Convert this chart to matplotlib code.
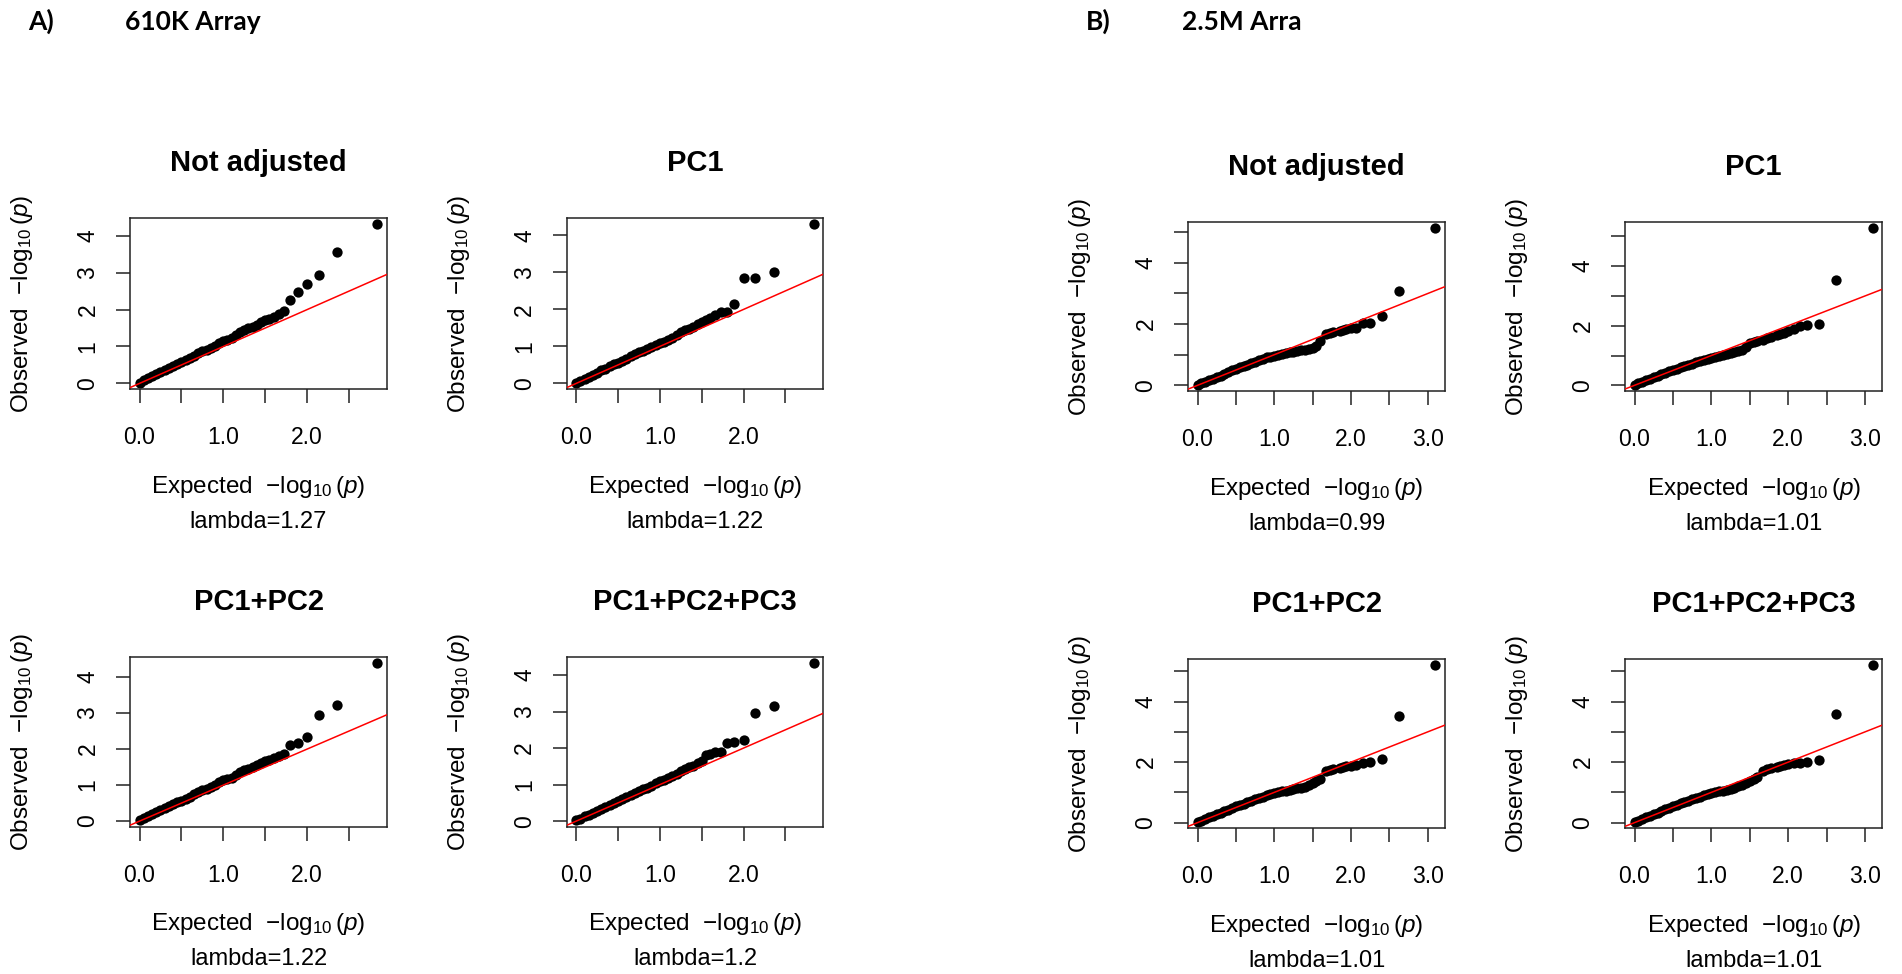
import matplotlib
matplotlib.use("Agg")
import matplotlib.pyplot as plt

plt.rcParams['font.family'] = ['Liberation Sans', 'DejaVu Sans']
plt.rcParams['mathtext.fontset'] = 'custom'
plt.rcParams['mathtext.rm'] = 'Liberation Sans'
plt.rcParams['mathtext.it'] = 'Liberation Sans:italic'

# expected -log10(p), sampled along each QQ curve
expected_610k = [0.00, 0.05, 0.10, 0.15, 0.20, 0.25, 0.30, 0.35, 0.40, 0.45,
                 0.50, 0.55, 0.60, 0.65, 0.70, 0.75, 0.80, 0.85, 0.90, 0.95,
                 1.00, 1.05, 1.10, 1.15, 1.20, 1.25, 1.30, 1.35, 1.40, 1.45,
                 1.50, 1.55, 1.60, 1.66, 1.73, 1.80, 1.89, 2.00, 2.14, 2.36, 2.84]
expected_25m = [0.00, 0.05, 0.10, 0.15, 0.20, 0.25, 0.30, 0.35, 0.40, 0.45,
                0.50, 0.55, 0.60, 0.65, 0.70, 0.75, 0.80, 0.85, 0.90, 0.95,
                1.00, 1.05, 1.10, 1.15, 1.20, 1.25, 1.30, 1.35, 1.40, 1.45,
                1.50, 1.55, 1.60, 1.67, 1.73, 1.77, 1.85, 1.89, 1.94, 2.00,
                2.07, 2.15, 2.25, 2.40, 2.62, 3.10]

# observed -log10(p)
obs_610k_none = [0.02, 0.08, 0.14, 0.19, 0.25, 0.31, 0.36, 0.42, 0.47, 0.53,
                 0.58, 0.63, 0.69, 0.75, 0.82, 0.88, 0.90, 0.95, 1.02, 1.10,
                 1.14, 1.17, 1.22, 1.30, 1.38, 1.46, 1.50, 1.52, 1.58, 1.66,
                 1.72, 1.75, 1.79, 1.88, 1.95, 2.25, 2.47, 2.70, 2.93, 3.57, 4.31]
obs_610k_pc1 = [0.02, 0.07, 0.13, 0.18, 0.24, 0.29, 0.35, 0.40, 0.46, 0.52,
                0.56, 0.61, 0.67, 0.73, 0.79, 0.85, 0.88, 0.93, 0.98, 1.05,
                1.10, 1.13, 1.18, 1.24, 1.31, 1.39, 1.45, 1.48, 1.53, 1.60,
                1.67, 1.72, 1.78, 1.86, 1.93, 1.93, 2.15, 2.86, 2.86, 3.02, 4.30]
obs_610k_pc2 = [0.02, 0.08, 0.13, 0.19, 0.24, 0.30, 0.36, 0.41, 0.47, 0.52,
                0.57, 0.62, 0.68, 0.75, 0.81, 0.86, 0.89, 0.94, 1.01, 1.08,
                1.13, 1.16, 1.21, 1.28, 1.35, 1.41, 1.46, 1.50, 1.56, 1.62,
                1.67, 1.70, 1.76, 1.80, 1.86, 2.12, 2.16, 2.33, 2.95, 3.23, 4.39]
obs_610k_pc3 = [0.02, 0.07, 0.13, 0.18, 0.23, 0.29, 0.34, 0.40, 0.45, 0.51,
                0.56, 0.61, 0.66, 0.72, 0.78, 0.83, 0.87, 0.92, 0.97, 1.04,
                1.09, 1.12, 1.17, 1.23, 1.30, 1.37, 1.43, 1.47, 1.52, 1.60,
                1.65, 1.80, 1.85, 1.88, 1.88, 2.14, 2.17, 2.22, 2.95, 3.16, 4.33]

obs_25m_none = [0.02, 0.07, 0.12, 0.17, 0.22, 0.27, 0.32, 0.37, 0.43, 0.49,
                0.55, 0.59, 0.63, 0.68, 0.73, 0.77, 0.82, 0.87, 0.91, 0.94,
                0.97, 1.00, 1.02, 1.05, 1.08, 1.10, 1.12, 1.14, 1.16, 1.18,
                1.21, 1.30, 1.45, 1.68, 1.72, 1.74, 1.78, 1.80, 1.83, 1.86,
                1.87, 2.04, 2.04, 2.25, 3.07, 5.14]
obs_25m_pc1 = [0.02, 0.07, 0.12, 0.17, 0.22, 0.27, 0.32, 0.37, 0.42, 0.47,
               0.52, 0.56, 0.60, 0.64, 0.68, 0.73, 0.77, 0.81, 0.86, 0.90,
               0.93, 0.96, 0.99, 1.02, 1.05, 1.08, 1.11, 1.14, 1.18, 1.30,
               1.42, 1.45, 1.48, 1.52, 1.58, 1.62, 1.68, 1.72, 1.76, 1.82,
               1.90, 2.00, 2.02, 2.05, 3.52, 5.28]
obs_25m_pc2 = [0.02, 0.07, 0.12, 0.17, 0.22, 0.27, 0.32, 0.37, 0.43, 0.49,
               0.54, 0.58, 0.63, 0.68, 0.72, 0.77, 0.82, 0.86, 0.90, 0.94,
               0.97, 1.00, 1.03, 1.06, 1.09, 1.12, 1.14, 1.16, 1.19, 1.24,
               1.30, 1.38, 1.45, 1.70, 1.74, 1.76, 1.80, 1.85, 1.87, 1.88,
               1.90, 1.98, 2.00, 2.11, 3.54, 5.20]
obs_25m_pc3 = [0.02, 0.07, 0.12, 0.17, 0.22, 0.28, 0.33, 0.38, 0.44, 0.49,
               0.54, 0.59, 0.64, 0.69, 0.73, 0.78, 0.82, 0.86, 0.90, 0.94,
               0.97, 1.00, 1.03, 1.06, 1.09, 1.12, 1.16, 1.20, 1.25, 1.30,
               1.38, 1.45, 1.50, 1.72, 1.76, 1.80, 1.84, 1.88, 1.91, 1.94,
               1.96, 1.98, 2.00, 2.07, 3.58, 5.20]

titles = ["Not adjusted", "PC1", "PC1+PC2", "PC1+PC2+PC3"]
lambdas_610k = ["1.27", "1.22", "1.22", "1.2"]
lambdas_25m = ["0.99", "1.01", "1.01", "1.01"]

xticks_610k = [0, 0.5, 1, 1.5, 2, 2.5]
xlabels_610k = ["0.0", "", "1.0", "", "2.0", ""]
yticks_610k = [0, 1, 2, 3, 4]
ylabels_610k = ["0", "1", "2", "3", "4"]
xticks_25m = [0, 0.5, 1, 1.5, 2, 2.5, 3]
xlabels_25m = ["0.0", "", "1.0", "", "2.0", "", "3.0"]
yticks_25m = [0, 1, 2, 3, 4, 5]
ylabels_25m = ["0", "", "2", "", "4", ""]

W, H = 1902, 974
fig = plt.figure(figsize=(W / 100, H / 100), dpi=100)


def rect(l, r, t, b):
    return [l / W, 1 - b / H, (r - l) / W, (b - t) / H]


PT = 72 / 100  # points per pixel


def qq_panel(box, x, y, title, lam, xt, xtl, yt, ytl):
    ax = fig.add_axes(box)
    ax.scatter(x, y, s=55, color="black", linewidths=0, zorder=2)
    ax.axline((0, 0), slope=1, color="red", lw=1.1, zorder=3)
    xr = max(x) - min(x)
    yr = max(y) - min(y)
    ax.set_xlim(min(x) - 0.04 * xr, max(x) + 0.04 * xr)
    ax.set_ylim(min(y) - 0.04 * yr, max(y) + 0.04 * yr)
    ax.set_xticks(xt)
    ax.set_xticklabels(xtl)
    ax.set_yticks(yt)
    ax.set_yticklabels(ytl)
    for lbl in ax.get_yticklabels():
        lbl.set_rotation(90)
        lbl.set_va("center")
    ax.tick_params(direction="out", length=10, width=1.1, labelsize=16.5,
                   color="#222222")
    ax.tick_params(axis="x", pad=16.5)
    ax.tick_params(axis="y", pad=12)
    for s in ax.spines.values():
        s.set_linewidth(1.1)
        s.set_color("#222222")
    ax.annotate(title, xy=(0.5, 1), xycoords="axes fraction",
                xytext=(0, 47 * PT), textcoords="offset points",
                ha="center", va="baseline", fontsize=21, fontweight="bold")
    ax.annotate(r"Expected  $-\log_{10}(p)$", xy=(0.5, 0), xycoords="axes fraction",
                xytext=(0, -103.5 * PT), textcoords="offset points",
                ha="center", va="baseline", fontsize=17.5)
    ax.annotate("lambda=" + lam, xy=(0.5, 0), xycoords="axes fraction",
                xytext=(0, -138.7 * PT), textcoords="offset points",
                ha="center", va="baseline", fontsize=17)
    ax.annotate(r"Observed  $-\log_{10}(p)$", xy=(0, 0.5), xycoords="axes fraction",
                xytext=(-108 * PT, 0), textcoords="offset points",
                ha="center", va="center", rotation=90, fontsize=17.5)
    return ax


boxes_610k = [rect(130, 387, 218, 389), rect(566.7, 823.3, 218, 389),
              rect(130, 387, 656.7, 826.7), rect(566.7, 823.3, 656.7, 826.7)]
boxes_25m = [rect(1188, 1445, 221.7, 391), rect(1625, 1882.3, 221.7, 391),
             rect(1188, 1445, 659, 828.3), rect(1625, 1882.3, 659, 828.3)]

obs_610k = [obs_610k_none, obs_610k_pc1, obs_610k_pc2, obs_610k_pc3]
obs_25m = [obs_25m_none, obs_25m_pc1, obs_25m_pc2, obs_25m_pc3]

for i in range(4):
    qq_panel(boxes_610k[i], expected_610k, obs_610k[i], titles[i], lambdas_610k[i],
             xticks_610k, xlabels_610k, yticks_610k, ylabels_610k)
    qq_panel(boxes_25m[i], expected_25m, obs_25m[i], titles[i], lambdas_25m[i],
             xticks_25m, xlabels_25m, yticks_25m, ylabels_25m)

# panel headers
hdr = dict(fontsize=19, fontweight="bold", family=["Lato", "DejaVu Sans"], va="baseline")
fig.text(28 / W, 1 - 30 / H, "A)", **hdr)
fig.text(125 / W, 1 - 30 / H, "610K Array", **hdr)
fig.text(1086 / W, 1 - 30 / H, "B)", **hdr)
fig.text(1181.7 / W, 1 - 30 / H, "2.5M Arra", **hdr)

fig.savefig("out.png", dpi=100)
